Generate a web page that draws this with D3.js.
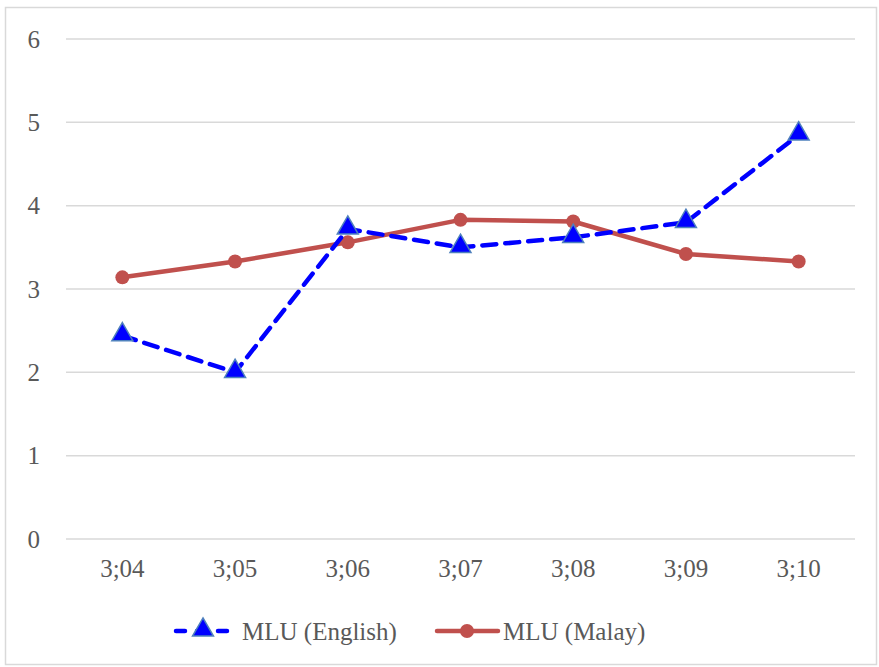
<!DOCTYPE html>
<html>
<head>
<meta charset="utf-8">
<script src="https://cdn.jsdelivr.net/npm/d3@7"></script>
</head>
<body style="margin:0; background:#fff">
<svg id="chart"></svg>
<script>
// Data
var ages = ["3;04", "3;05", "3;06", "3;07", "3;08", "3;09", "3;10"];
var mluEnglish = [2.44, 2.0, 3.72, 3.5, 3.62, 3.8, 4.85];
var mluMalay = [3.14, 3.33, 3.56, 3.83, 3.81, 3.42, 3.33];
var yTicks = [0, 1, 2, 3, 4, 5, 6];

var svgWidth = 879;
var svgHeight = 667;
var margin = { top: 39, right: 24, bottom: 128, left: 66 };
var chartWidth = svgWidth - margin.left - margin.right;
var chartHeight = svgHeight - margin.top - margin.bottom;
var fontFamily = "Liberation Serif";

// apply the serif font to a text selection
function serif(sel) {
  sel.attr("font-family", fontFamily)
    .style("font-family", fontFamily, "important")
    .style("font-size", "25px", "important")
    .style("fill", "#595959");
}

var svg = d3.select("#chart")
  .attr("width", svgWidth)
  .attr("height", svgHeight);

// outer border
svg.append("rect")
  .attr("x", 5.5).attr("y", 7.5)
  .attr("width", svgWidth - 8).attr("height", svgHeight - 10)
  .attr("fill", "none")
  .attr("stroke", "#d9d9d9")
  .attr("stroke-width", 1.5);

var chart = svg.append("g")
  .attr("transform", "translate(" + margin.left + "," + margin.top + ")");

var xScale = d3.scaleBand()
  .domain(ages)
  .range([0, chartWidth]);

var yScale = d3.scaleLinear()
  .domain([0, 6])
  .range([chartHeight, 0]);

// gridlines
chart.selectAll(".grid")
  .data(yTicks)
  .enter()
  .append("line")
  .attr("class", "grid")
  .attr("x1", 0)
  .attr("x2", chartWidth)
  .attr("y1", function (d) { return yScale(d); })
  .attr("y2", function (d) { return yScale(d); })
  .attr("stroke", "#d9d9d9")
  .attr("stroke-width", 1.5);

// y axis labels
var yAxis = chart.append("g")
  .call(d3.axisLeft(yScale).tickValues(yTicks).tickFormat(d3.format("d")).tickSize(0).tickPadding(26));
yAxis.select(".domain").remove();
yAxis.selectAll("text").call(serif);

// x axis labels
var xAxis = chart.append("g")
  .attr("transform", "translate(0," + chartHeight + ")")
  .call(d3.axisBottom(xScale).tickSize(0).tickPadding(20));
xAxis.select(".domain").remove();
xAxis.selectAll("text").call(serif);

function cx(i) { return xScale(ages[i]) + xScale.bandwidth() / 2; }

var line = d3.line()
  .x(function (d, i) { return cx(i); })
  .y(function (d) { return yScale(d); });

// Malay line
chart.append("path")
  .datum(mluMalay)
  .attr("d", line)
  .attr("fill", "none")
  .attr("stroke", "#c0504d")
  .attr("stroke-width", 4.5)
  .attr("stroke-linejoin", "round");

chart.selectAll(".malay")
  .data(mluMalay)
  .enter()
  .append("circle")
  .attr("class", "malay")
  .attr("cx", function (d, i) { return cx(i); })
  .attr("cy", function (d) { return yScale(d); })
  .attr("r", 7)
  .attr("fill", "#c0504d");

// English line
chart.append("path")
  .datum(mluEnglish)
  .attr("d", line)
  .attr("fill", "none")
  .attr("stroke", "#0000ff")
  .attr("stroke-width", 4.5)
  .attr("stroke-dasharray", "14,9")
  .attr("stroke-linecap", "round");

var tri = d3.symbol().type(d3.symbolTriangle).size(190);
chart.selectAll(".english")
  .data(mluEnglish)
  .enter()
  .append("path")
  .attr("class", "english")
  .attr("d", tri)
  .attr("transform", function (d, i) { return "translate(" + cx(i) + "," + (yScale(d) - 1) + ")"; })
  .attr("fill", "#0000ff")
  .attr("stroke", "#4f81bd")
  .attr("stroke-width", 1.5);

// legend
var legend = svg.append("g").attr("transform", "translate(0,631)");

legend.append("line")
  .attr("x1", 176).attr("x2", 230)
  .attr("y1", 0).attr("y2", 0)
  .attr("stroke", "#0000ff")
  .attr("stroke-width", 4.5)
  .attr("stroke-dasharray", "9,12")
  .attr("stroke-linecap", "round");
legend.append("path")
  .attr("d", tri)
  .attr("transform", "translate(203,-1)")
  .attr("fill", "#0000ff")
  .attr("stroke", "#4f81bd")
  .attr("stroke-width", 1.5);
legend.append("text")
  .attr("x", 242).attr("y", 9)
  .call(serif)
  .text("MLU (English)");

legend.append("line")
  .attr("x1", 437).attr("x2", 498)
  .attr("y1", 0).attr("y2", 0)
  .attr("stroke", "#c0504d")
  .attr("stroke-width", 4.5)
  .attr("stroke-linecap", "round");
legend.append("circle")
  .attr("cx", 467).attr("cy", 0).attr("r", 7)
  .attr("fill", "#c0504d");
legend.append("text")
  .attr("x", 503).attr("y", 9)
  .call(serif)
  .text("MLU (Malay)");
</script>
</body>
</html>
